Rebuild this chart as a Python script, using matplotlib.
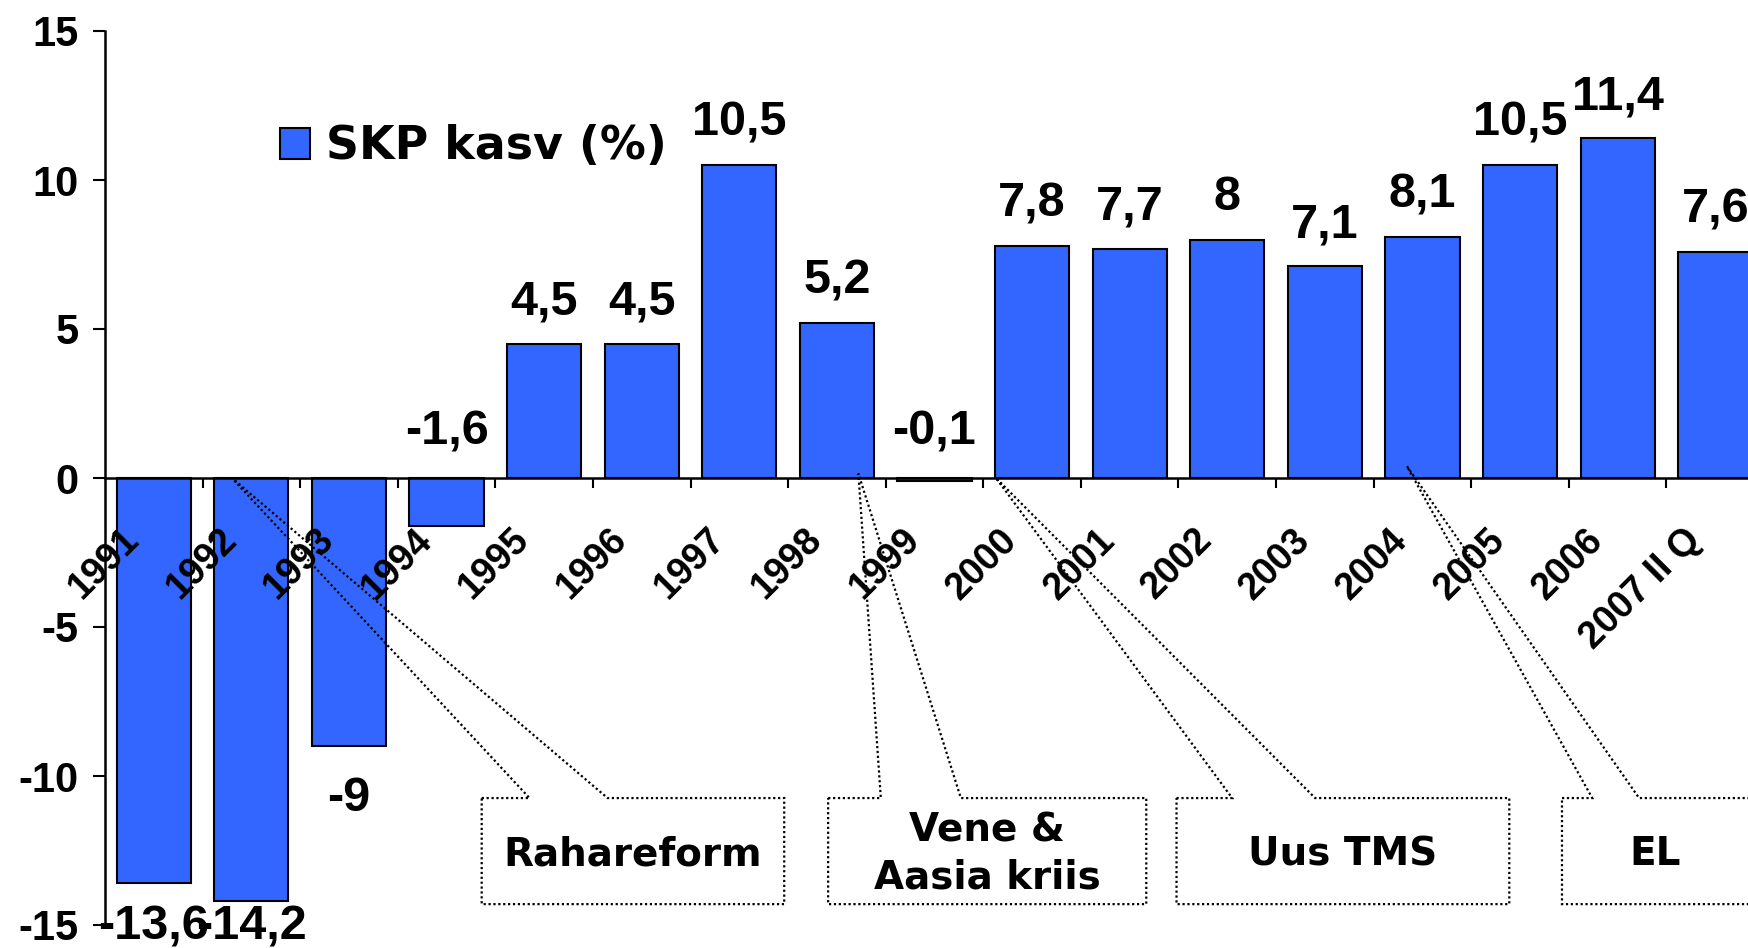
import matplotlib.pyplot as plt
import matplotlib.transforms as mtransforms
from matplotlib.patches import Polygon

# andmed
years = ['1991', '1992', '1993', '1994', '1995', '1996', '1997', '1998', '1999',
         '2000', '2001', '2002', '2003', '2004', '2005', '2006', '2007 II Q']
growth = [-13.6, -14.2, -9, -1.6, 4.5, 4.5, 10.5, 5.2, -0.1,
          7.8, 7.7, 8, 7.1, 8.1, 10.5, 11.4, 7.6]
series_name = 'SKP kasv (%)'

# viitekastid: tekst, kasti x-vahemik, kiilu alus, noole ots (andmeteljestikus), teksti x
callouts = [
    ('Rahareform', (3.36, 6.46), (3.85, 4.65), (0.8, 0.0), 4.91),
    ('Vene &\nAasia kriis', (6.91, 10.17), (7.45, 8.27), (7.22, 0.15), 8.54),
    ('Uus TMS', (10.48, 13.89), (11.05, 11.90), (8.63, 0.0), 12.18),
    ('EL', (14.43, 16.4), (14.74, 15.22), (12.84, 0.4), 15.38),
]
box_top, box_bot = -10.74, -14.3

num_font = 'Liberation Sans'
txt_font = 'DejaVu Sans'

fig = plt.figure(figsize=(17.48, 9.48), dpi=100)
ax = fig.add_axes([105 / 1748, 23 / 948, 1659 / 1748, 894 / 948])
ax.set_axisbelow(False)

x = list(range(len(years)))
ax.bar(x, growth, width=0.76, color='#3366FF', edgecolor='black',
       linewidth=1.5, zorder=2, label=series_name)

ax.set_xlim(-0.5, len(years) - 0.5)
ax.set_ylim(-15, 15)

for s in ['top', 'right']:
    ax.spines[s].set_visible(False)
ax.spines['bottom'].set_position(('data', 0))
ax.spines['bottom'].set_linewidth(1.8)
ax.spines['left'].set_linewidth(1.8)

ax.set_yticks([-15, -10, -5, 0, 5, 10, 15])
ax.set_yticklabels(['-15', '-10', '-5', '0', '5', '10', '15'],
                   fontfamily=num_font, fontweight='bold', fontsize=30)
ax.tick_params(axis='y', length=9, width=1.5, pad=10)

ax.set_xticks(x)
ax.set_xticklabels(years, rotation=45, ha='right', va='top',
                   fontfamily=num_font, fontweight='bold', fontsize=27)
ax.tick_params(axis='x', which='major', length=0, pad=31.5)
ax.set_xticks([i + 0.5 for i in x], minor=True)
ax.tick_params(axis='x', which='minor', length=7, width=1.5, direction='out')
shift = mtransforms.ScaledTranslation(-0.075, 0, fig.dpi_scale_trans)
for lab in ax.get_xticklabels():
    lab.set_transform(lab.get_transform() + shift)

# väärtused tulpade kohal / all
for i, v in enumerate(growth):
    lbl = ('%g' % v).replace('.', ',')
    if v >= 0:
        ax.annotate(lbl, (i, v), xytext=(0, 21), textcoords='offset points',
                    ha='center', va='baseline', fontfamily=num_font,
                    fontweight='bold', fontsize=35, zorder=5, annotation_clip=False)
    elif v > -2:
        ax.annotate(lbl, (i, 0), xytext=(0, 24), textcoords='offset points',
                    ha='center', va='baseline', fontfamily=num_font,
                    fontweight='bold', fontsize=35, zorder=5, annotation_clip=False)
    else:
        ax.text(i, max(v - 1.0, -14.3), lbl, ha='center', va='top',
                fontfamily=num_font, fontweight='bold', fontsize=35, zorder=5,
                clip_on=False)

# viitekastid
for text, (x0, x1), (w0, w1), (tx, ty), text_x in callouts:
    verts = [(x0, box_top), (w0, box_top), (tx, ty), (w1, box_top),
             (x1, box_top), (x1, box_bot), (x0, box_bot)]
    ax.add_patch(Polygon(verts, closed=True, facecolor='none', edgecolor='black',
                         linestyle=(0, (1, 1.2)), linewidth=1.6, zorder=3,
                         clip_on=False))
    ax.text(text_x, (box_top + box_bot) / 2 - 0.1, text,
            ha='center', va='center', fontfamily=txt_font, fontweight='bold',
            fontsize=28, linespacing=1.3, zorder=5, clip_on=False)

ax.legend(loc='center left', bbox_to_anchor=(280 / 1748, 1 - 147 / 948),
          bbox_transform=fig.transFigure, frameon=False, borderpad=0,
          borderaxespad=0, handlelength=0.65, handleheight=0.65,
          handletextpad=0.35, prop={'family': txt_font, 'weight': 'bold', 'size': 33})

fig.savefig('out.png', dpi=100)
